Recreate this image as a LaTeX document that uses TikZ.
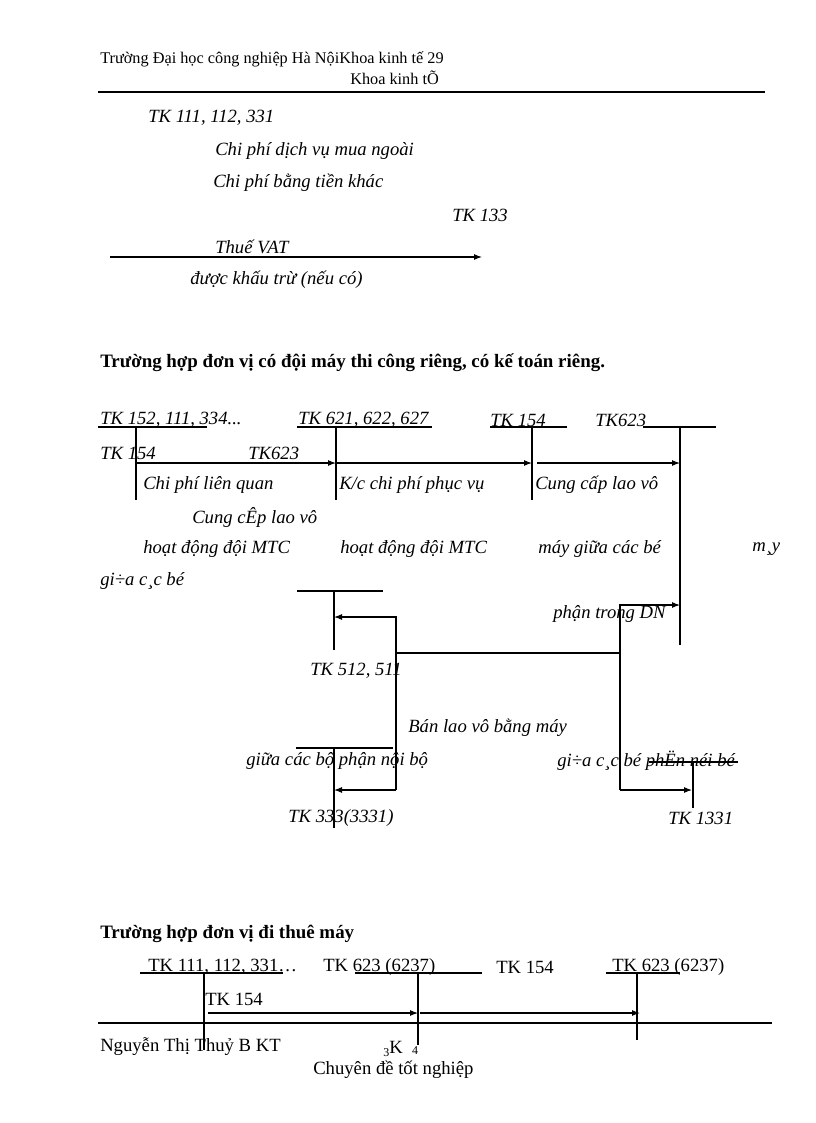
\documentclass[tikz,border=0pt]{standalone}
\usepackage{fontspec}
\usetikzlibrary{arrows.meta}
\setmainfont{Liberation Serif}
\begin{document}
\begin{tikzpicture}[x=0.75pt,y=-0.75pt,
  t/.style={anchor=west,inner sep=0pt,yshift=-2.2pt,font=\fontsize{14}{16}\selectfont\itshape},
  u/.style={anchor=west,inner sep=0pt,yshift=-2.2pt,font=\fontsize{14}{16}\selectfont},
  h/.style={anchor=west,inner sep=0pt,yshift=-1.5pt,font=\fontsize{12.2}{14}\selectfont},
  b/.style={anchor=west,inner sep=0pt,yshift=-2.2pt,font=\fontsize{14.2}{16}\selectfont\bfseries},
  ln/.style={line width=0.8pt},
  ar/.style={line width=0.8pt,-{Latex[length=6pt,width=4.5pt]}}]
\useasboundingbox (0,0) rectangle (816,1123);
% header
\node[h] (h1) at (100,57) {Trường Đại học công nghiệp Hà NộiKhoa kinh tế 29};
\node[h] (h2) at (350,76) {Khoa kinh tÕ};
\coordinate (hl1) at (98,92); \coordinate (hl2) at (765,92);
\draw[ln] (hl1) -- (hl2);
% first part
\node[t] (a1) at (148,115) {TK 111, 112, 331};
\node[t] (a2) at (215,148) {Chi phí dịch vụ mua ngoài};
\node[t] (a3) at (213,180) {Chi phí bằng tiền khác};
\node[t] (a4) at (452,212) {TK 133};
\node[t] (a5) at (215,244) {Thuế VAT};
\coordinate (p1) at (110,257); \coordinate (p2) at (482,257);
\draw[ar] (p1) -- (p2);
\node[t] (a6) at (190,277) {được khấu trừ (nếu có)};
% section 2
\node[b] (s2) at (100,360) {Trường hợp đơn vị có đội máy thi công riêng, có kế toán riêng.};
\node[t] (k1) at (100,417) {TK 152, 111, 334...};
\node[t] (k2) at (298,417) {TK 621, 622, 627};
\node[t] (k3) at (490,417) {TK 154};
\node[t] (k4) at (595,417) {TK623};
\coordinate (u1a) at (98,427); \coordinate (u1b) at (207,427);
\coordinate (u2a) at (297,427); \coordinate (u2b) at (432,427);
\coordinate (u3a) at (490,427); \coordinate (u3b) at (567,427);
\coordinate (u4a) at (643,427); \coordinate (u4b) at (716,427);
\draw[ln] (u1a)--(u1b) (u2a)--(u2b) (u3a)--(u3b) (u4a)--(u4b);
\coordinate (v1t) at (136,427); \coordinate (v1b) at (136,500);
\coordinate (v2t) at (336,427); \coordinate (v2b) at (336,500);
\coordinate (v3t) at (532,427); \coordinate (v3b) at (532,500);
\coordinate (v4t) at (680,427); \coordinate (v4b) at (680,645);
\draw[ln] (v1t)--(v1b) (v2t)--(v2b) (v3t)--(v3b) (v4t)--(v4b);
\node[t] (k5) at (100,450) {TK 154};
\node[t] (k6) at (248,450) {TK623};
\coordinate (r1a) at (136,463); \coordinate (r1b) at (336,463);
\coordinate (r2a) at (336,463); \coordinate (r2b) at (532,463);
\coordinate (r3a) at (537,463); \coordinate (r3b) at (680,463);
\draw[ar] (r1a)--(r1b); \draw[ar] (r2a)--(r2b); \draw[ar] (r3a)--(r3b);
\node[t] (c1) at (143,482) {Chi phí liên quan};
\node[t] (c2) at (339,482) {K/c chi phí phục vụ};
\node[t] (c3) at (535,482) {Cung cấp lao vô};
\node[t] (c4) at (192,515) {Cung cÊp lao vô};
\node[t] (c5) at (143,546) {hoạt động đội MTC};
\node[t] (c6) at (340,546) {hoạt động đội MTC};
\node[t] (c7) at (538,546) {máy giữa các bé};
\node[t] (c8) at (752,546) {m¸y};
\node[t] (c9) at (100,578) {gi÷a c¸c bé};
\coordinate (w1a) at (297,591); \coordinate (w1b) at (383,591);
\draw[ln] (w1a)--(w1b);
\coordinate (w2t) at (334,591); \coordinate (w2b) at (334,650);
\draw[ln] (w2t)--(w2b);
\coordinate (q1) at (396,617); \coordinate (q2) at (334,617);
\coordinate (q3) at (396,790); \coordinate (q4) at (334,790);
\draw[ar] (q3)--(q1)--(q2);
\draw[ar] (q3)--(q4);
\coordinate (m1) at (396,653); \coordinate (m2) at (620,653);
\draw[ln] (m1)--(m2);
\coordinate (n1) at (620,790); \coordinate (n2) at (620,605); \coordinate (n3) at (680,605);
\coordinate (n4) at (692,790);
\draw[ar] (n1)--(n2)--(n3);
\draw[ar] (n1)--(n4);
\node[t] (d1) at (553,611) {phận trong DN};
\node[t] (d2) at (310,668) {TK 512, 511};
\node[t] (d3) at (408,725) {Bán lao vô bằng máy};
\coordinate (x1a) at (296,748); \coordinate (x1b) at (393,748);
\draw[ln] (x1a)--(x1b);
\coordinate (x2t) at (334,748); \coordinate (x2b) at (334,828);
\draw[ln] (x2t)--(x2b);
\node[t] (d4) at (246,758) {giữa các bộ phận nội bộ};
\node[t] (d5) at (557,758) {gi÷a c¸c bé phËn néi bé};
\coordinate (y1a) at (649,762); \coordinate (y1b) at (738,762);
\draw[ln] (y1a)--(y1b);
\coordinate (y2t) at (693,762); \coordinate (y2b) at (693,808);
\draw[ln] (y2t)--(y2b);
\node[t] (d6) at (288,815) {TK 333(3331)};
\node[t] (d7) at (668,815) {TK 1331};
% section 3
\node[b] (s3) at (100,931) {Trường hợp đơn vị đi thuê máy};
\node[u] (e1) at (148,964) {TK 111, 112, 331…};
\node[u] (e2) at (323,964) {TK 623 (6237)};
\node[u] (e3) at (496,964) {TK 154};
\node[u] (e4) at (612,964) {TK 623 (6237)};
\coordinate (z1a) at (140,973); \coordinate (z1b) at (283,973);
\coordinate (z2a) at (355,973); \coordinate (z2b) at (482,973);
\coordinate (z3a) at (606,973); \coordinate (z3b) at (680,973);
\draw[ln] (z1a)--(z1b) (z2a)--(z2b) (z3a)--(z3b);
\coordinate (g1t) at (204,973); \coordinate (g1b) at (204,1050);
\coordinate (g2t) at (418,973); \coordinate (g2b) at (418,1045);
\coordinate (g3t) at (637,973); \coordinate (g3b) at (637,1040);
\draw[ln] (g1t)--(g1b) (g2t)--(g2b) (g3t)--(g3b);
\node[u] (e5) at (205,996) {TK 154};
\coordinate (f1) at (208,1013); \coordinate (f2) at (418,1013); \coordinate (f3) at (420,1013); \coordinate (f4) at (640,1013);
\draw[ar] (f1)--(f2); \draw[ar] (f3)--(f4);
\coordinate (fl1) at (98,1023); \coordinate (fl2) at (772,1023);
\draw[ln] (fl1)--(fl2);
\node[u] (o1) at (100,1044) {Nguyễn Thị Thuỷ B KT};
\node[u] (o2) at (383,1046) {\raisebox{-0.4ex}{\fontsize{9}{10}\selectfont 3}K\hspace{7pt}\raisebox{-0.2ex}{\fontsize{9}{10}\selectfont 4}};
\node[u] (o3) at (313,1067) {Chuyên đề tốt nghiệp};
\end{tikzpicture}
\end{document}
